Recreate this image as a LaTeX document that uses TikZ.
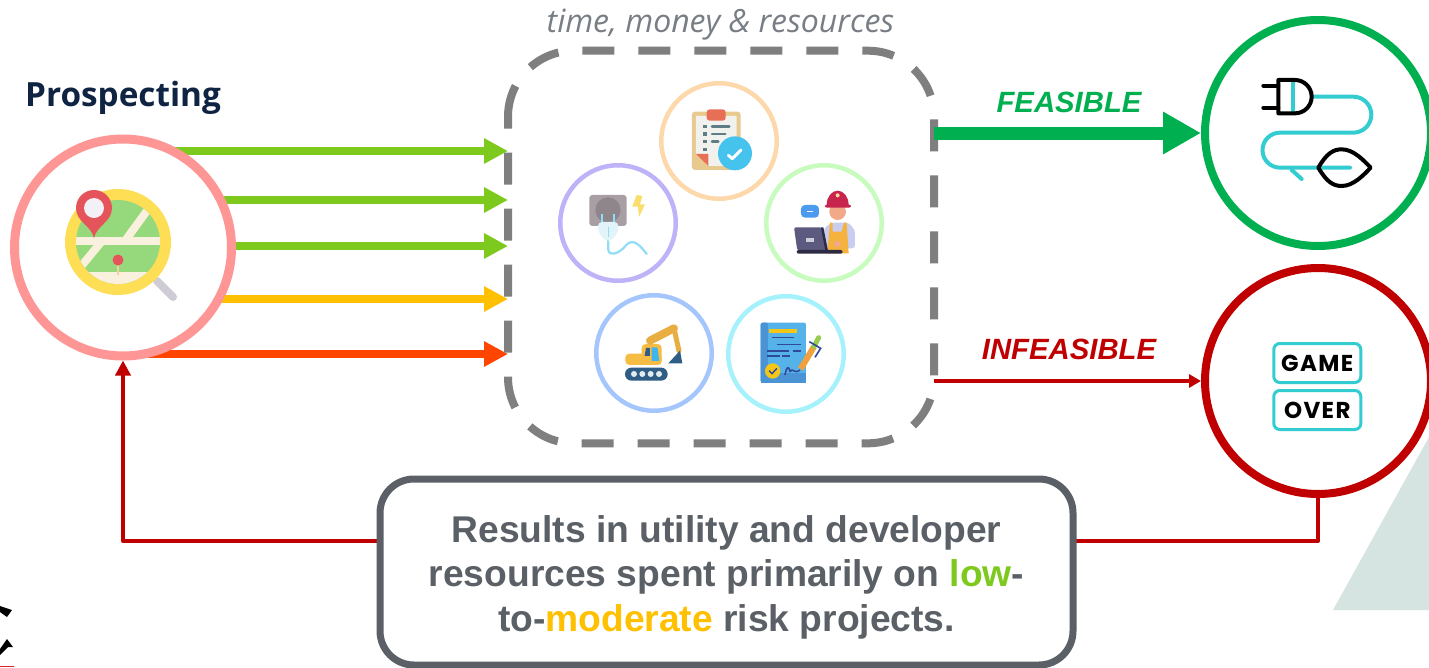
\documentclass[tikz,border=0pt]{standalone}
\usepackage{fontspec}
\setmainfont{Liberation Sans}
\newfontfamily\openfont{Open Sans}
\newfontfamily\gamefont[LetterSpace=6]{Poppins}
\usetikzlibrary{arrows.meta,backgrounds}
\definecolor{cgreen}{HTML}{7EC91E}
\definecolor{camber}{HTML}{FFC000}
\definecolor{corange}{HTML}{FF4500}
\definecolor{cok}{HTML}{00B050}
\definecolor{cbad}{HTML}{C00000}
\definecolor{cteal}{HTML}{33CCD0}
\definecolor{cslate}{HTML}{5A6066}
\definecolor{cframe}{HTML}{7F7F7F}
\tikzset{
  x=1pt,y=-1pt,
  bigring/.style={circle,draw,fill=white,line width=8pt,minimum size=226pt,inner sep=0pt},
  smallring/.style={circle,draw,fill=white,line width=4.5pt,minimum size=115.5pt,inner sep=0pt},
  leadline/.style={line width=8pt,-{Triangle[length=24pt,width=24pt]}},
  thinarrow/.style={cbad,line width=4pt},
  zoomA/.style={shift={(540pt,-70pt)},x=.3333pt,y=-.3333pt},
  gamebox/.style={draw=cteal,line width=3pt,rounded corners=6pt,fill=white,minimum width=87pt,minimum height=39pt,inner sep=0pt,
    font=\gamefont\bfseries\fontsize{23}{23}\selectfont},
  lbl/.style={font=\bfseries\itshape\fontsize{29.3}{30}\selectfont,inner sep=0pt},
  framedash/.style={draw=cframe,line width=8pt,dash pattern=on 32pt off 24pt}
}
\begin{document}
\begin{tikzpicture}
\useasboundingbox (0,0) rectangle (1429,667);

% nodes
\node[bigring,minimum size=217pt,draw={rgb,255:red,255;green,150;blue,150},line width=9pt] (prospect) at (123,247.5) {};
\node[bigring,draw=cok] (green) at (1318,133) {};
\node[bigring,draw=cbad] (red) at (1318,381) {};
\node[minimum width=426pt,minimum height=392.6pt,inner sep=0pt,outer sep=0pt] (box) at (721,247) {};
\draw[framedash] (box.north west) ++(0,66) arc[start angle=180,end angle=270,radius=66]
  -- ++(294,0) arc[start angle=270,end angle=360,radius=66]
  -- ++(0,260.6) arc[start angle=0,end angle=90,radius=66]
  -- ++(-294,0) arc[start angle=90,end angle=180,radius=66] -- cycle;
\node[smallring,draw={rgb,255:red,253;green,216;blue,170}] (s1) at (719,141) {};
\node[smallring,draw={rgb,255:red,192;green,178;blue,248}] (s2) at (618,223) {};
\node[smallring,draw={rgb,255:red,200;green,252;blue,190}] (s3) at (824,223) {};
\node[smallring,draw={rgb,255:red,165;green,198;blue,252}] (s4) at (654,353) {};
\node[smallring,draw={rgb,255:red,165;green,242;blue,252}] (s5) at (786,354) {};

\node[font=\openfont\bfseries\fontsize{33.3}{36}\selectfont,text={rgb,255:red,15;green,35;blue,67},inner sep=0pt,anchor=base west] (title) at (25,106.7) {Prospecting};
\node[font=\openfont\itshape\fontsize{32}{34}\selectfont,text={rgb,255:red,120;green,126;blue,133},inner sep=0pt,anchor=base] (cap) at (720.5,32.7) {time, money \& resources};
\node[lbl,text=cok] (feas) at (1069,102) {FEASIBLE};
\node[lbl,text=cbad] (infeas) at (1069,349) {INFEASIBLE};

\node[draw=cslate,line width=7pt,fill=white,rounded corners=34pt,minimum width=693pt,minimum height=186pt,inner sep=0pt,
  align=center,text=cslate,font=\bfseries\fontsize{37.2}{44.5}\selectfont] (result) at (726.5,572)
  {\rule{0pt}{37pt}Results in utility and developer\\resources spent primarily on \textcolor{cgreen}{low}-\\to-\textcolor{camber}{moderate} risk projects.};

\node[gamebox] (game) at (1317.3,363) {GAME};
\node[gamebox] (over) at (1317.3,410) {OVER};

% connectors and background on the lower layer
\coordinate (t1) at (508,151);
\coordinate (t2) at (508,200);
\coordinate (t3) at (508,246);
\coordinate (t4) at (508,299);
\coordinate (t5) at (508,354);
\coordinate (fb) at (727,541);
\begin{scope}[on background layer]
  \fill[white] (0,0) rectangle (1429,667);
  \fill[fill={rgb,255:red,213;green,227;blue,225}] (1333,610) -- (1429,437) -- (1429,610) -- cycle;
  \draw[leadline,cgreen] (prospect.center |- t1) -- (t1);
  \draw[leadline,cgreen] (prospect.center |- t2) -- (t2);
  \draw[leadline,cgreen] (prospect.center |- t3) -- (t3);
  \draw[leadline,camber] (prospect.center |- t4) -- (t4);
  \draw[leadline,corange] (prospect.center |- t5) -- (t5);
  \draw[thinarrow,line join=round,-{Triangle[length=15pt,width=15pt]}] (red.south) |- (fb) -| (prospect.south);
\end{scope}
\draw[cok,line width=13pt,-{Triangle[length=38pt,width=40pt]}] (box.east |- green.west) -- (green.west);
\draw[thinarrow,line width=4.5pt,-{Triangle[length=12pt,width=13pt]}] (box.east |- red.west) -- (red.west);

% map icon
\begin{scope}
  \draw[line width=8pt,line cap=round,color={rgb,255:red,208;green,204;blue,214}] (157,281) -- (173,297);
  \fill[color={rgb,255:red,253;green,222;blue,84}] (118,242) circle (53);
  \begin{scope}
    \clip (118,242) circle (42);
    \fill[color={rgb,255:red,150;green,217;blue,124}] (70,195) rectangle (166,290);
    \draw[line width=8pt,color={rgb,255:red,250;green,240;blue,222}] (70,241) -- (166,241);
    \draw[line width=8pt,color={rgb,255:red,250;green,240;blue,222}] (149,208) -- (125,241);
    \draw[line width=8pt,color={rgb,255:red,250;green,240;blue,222}] (102,241) -- (74,275);
    \fill[color={rgb,255:red,250;green,240;blue,222}] (70,272) rectangle (166,290);
  \end{scope}
  \draw[line width=2.5pt,color={rgb,255:red,245;green,208;blue,160}] (118,262) -- (118,275);
  \fill[color={rgb,255:red,229;green,84;blue,90}] (118,260) circle (5.5);
  \fill[color={rgb,255:red,229;green,84;blue,90}] (94,238) .. controls (91,225) and (76,222) .. (76,208)
     arc[start angle=180,end angle=360,radius=18]
     .. controls (112,222) and (97,225) .. (94,238) -- cycle;
  \fill[color={rgb,255:red,243;green,241;blue,246}] (94,208) circle (10);
\end{scope}

% clipboard icon
\begin{scope}[zoomA]
  \fill[rounded corners=3pt,color={rgb,255:red,232;green,201;blue,143}] (456,125) rectangle (602,300);
  \fill[color={rgb,255:red,241;green,241;blue,238}] (468,138) -- (590,138) -- (590,288) -- (505,288) -- (468,250) -- cycle;
  \fill[color={rgb,255:red,230;green,111;blue,85}] (468,252) -- (505,252) -- (505,288) -- cycle;
  \fill[rounded corners=3pt,color={rgb,255:red,230;green,111;blue,85}] (500,118) rectangle (557,152);
  \foreach \yy/\ee in {170/568,192/556,215/535} {
    \fill[color={rgb,255:red,95;green,125;blue,135}] (489,\yy-5) rectangle (500,\yy+5);
    \draw[line width=2.5pt,line cap=round,color={rgb,255:red,95;green,125;blue,135}] (516,\yy) -- (\ee,\yy);
  }
  \fill[color={rgb,255:red,95;green,125;blue,135}] (489,233) rectangle (500,243);
  \fill[color={rgb,255:red,69;green,195;blue,236}] (585,250) circle (51);
  \draw[white,line width=3pt,line cap=round,line join=round] (565,256) -- (577,266) -- (603,240);
\end{scope}

% socket icon
\begin{scope}[zoomA]
  \fill[rounded corners=3pt,color={rgb,255:red,168;green,159;blue,165}] (148,375) rectangle (260,468);
  \fill[color={rgb,255:red,143;green,134;blue,140}] (204,420) circle (38);
  \fill[color={rgb,255:red,251;green,221;blue,107}] (290,375) -- (277,410) -- (294,410) -- (297,441) -- (315,403) -- (300,403) -- (307,378) -- cycle;
  \draw[line width=2.2pt,line join=round,line cap=round,color={rgb,255:red,144;green,221;blue,245}] (205,510) -- (205,540) .. controls (208,560) and (235,550) .. (250,535) .. controls (270,510) and (285,505) .. (320,552);
  \draw[line width=2pt,color={rgb,255:red,144;green,221;blue,245}] (187,432) -- (187,458) (222,432) -- (222,458);
  \fill[rounded corners=4pt,color={rgb,255:red,226;green,243;blue,250}] (174,456) -- (235,456) -- (235,485) -- (215,512) -- (195,512) -- (174,485) -- cycle;
  \draw[line width=1.2pt,color={rgb,255:red,144;green,221;blue,245}] (205,470) -- (205,500);
\end{scope}

% worker icon
\begin{scope}[zoomA]
  \fill[rounded corners=3pt,color={rgb,255:red,201;green,205;blue,240}] (852,475) -- (875,458) -- (925,458) -- (945,480) -- (945,535) -- (852,535) -- cycle;
  \fill[color={rgb,255:red,245;green,178;blue,60}] (870,458) -- (878,458) -- (878,485) -- (905,485) -- (912,458) -- (920,458) -- (926,550) -- (862,550) -- cycle;
  \fill[color={rgb,255:red,242;green,169;blue,138}] (893,425) circle (25);
  \fill[color={rgb,255:red,200;green,37;blue,78}] (860,405) arc[start angle=180,end angle=360,x radius=33,y radius=43] -- cycle;
  \fill[rounded corners=2pt,color={rgb,255:red,200;green,37;blue,78}] (855,404) rectangle (933,413);
  \fill[color={rgb,255:red,250;green,220;blue,150}] (893,376) circle (6);
  \fill[rounded corners=4pt,color={rgb,255:red,76;green,155;blue,238}] (783,405) rectangle (837,443);
  \draw[white,line width=.8pt] (800,424) -- (820,424);
  \fill[rounded corners=2pt,color={rgb,255:red,92;green,90;blue,127}] (762,472) -- (846,472) -- (860,542) -- (772,542) -- cycle;
  \fill[color={rgb,255:red,205;green,205;blue,220}] (798,505) rectangle (822,515);
  \fill[rounded corners=2pt,color={rgb,255:red,45;green,43;blue,68}] (770,540) rectangle (908,551);
  \fill[color={rgb,255:red,45;green,43;blue,68}] (843,472) -- (850,472) -- (864,542) -- (856,542) -- cycle;
  \fill[color={rgb,255:red,242;green,169;blue,138}] (892,522) circle (10);
\end{scope}

% excavator icon
\begin{scope}[zoomA]
  \fill[rounded corners=4pt,color={rgb,255:red,247;green,188;blue,68}] (256,851) rectangle (365,885);
  \fill[rounded corners=4pt,color={rgb,255:red,247;green,188;blue,68}] (305,822) rectangle (365,885);
  \fill[color={rgb,255:red,62;green,181;blue,236}] (335,832) -- (352,832) -- (358,873) -- (335,873) -- cycle;
  \fill[color={rgb,255:red,47;green,93;blue,133}] (318,834) -- (330,834) -- (330,858) -- (314,858) -- cycle;
  \draw[line width=8pt,line join=round,line cap=round,color={rgb,255:red,232;green,174;blue,66}] (330,812) -- (402,775);
  \draw[line width=5pt,line join=round,line cap=round,color={rgb,255:red,232;green,174;blue,66}] (402,775) -- (417,843);
  \fill[color={rgb,255:red,47;green,93;blue,133}] (385,880) -- (420,842) -- (427,880) -- cycle;
  \fill[rounded corners=6.4pt,color={rgb,255:red,47;green,93;blue,133}] (255,893) rectangle (383,932);
  \foreach \xx in {282,307,332,357} \fill[color={rgb,255:red,225;green,235;blue,240}] (\xx,912) circle (9);
\end{scope}

% document icon
\begin{scope}[zoomA]
  \fill[rounded corners=2pt,color={rgb,255:red,86;green,179;blue,234}] (662,758) rectangle (798,938);
  \fill[rounded corners=2pt,color={rgb,255:red,74;green,147;blue,213}] (662,758) rectangle (684,938);
  \fill[color={rgb,255:red,74;green,147;blue,213}] (662,910) rectangle (798,938);
  \fill[color={rgb,255:red,245;green,197;blue,24}] (688,778) rectangle (770,790);
  \draw[line width=1.6pt,color={rgb,255:red,47;green,74;blue,154}]
    (697,802) -- (762,802) (710,823) -- (782,823) (682,843) -- (748,843) (758,843) -- (782,843) (682,858) -- (720,858) (727,858) -- (750,858);
  \fill[color={rgb,255:red,245;green,197;blue,24}] (698,903) circle (23);
  \draw[line width=1.4pt,line cap=round,color={rgb,255:red,47;green,74;blue,154}] (688,903) -- (696,911) -- (710,896);
  \draw[line width=1.6pt,line join=round,color={rgb,255:red,47;green,74;blue,154}] (735,915) .. controls (740,890) and (745,885) .. (750,905) .. controls (758,890) and (762,915) .. (780,900);
  \draw[line width=6pt,color={rgb,255:red,240;green,160;blue,60}] (782,897) -- (822,830);
  \draw[line width=5pt,line cap=round,color={rgb,255:red,150;green,205;blue,80}] (822,830) -- (836,803);
  \draw[line width=1.6pt,color={rgb,255:red,47;green,74;blue,154}] (808,815) -- (842,835) -- (825,862);
\end{scope}

% plug icon
\begin{scope}[shift={(1190pt,-10pt)},x=.3333pt,y=-.3333pt]
  \draw[cteal,line width=4pt,line cap=round] (370,260) -- (490,260) arc[start angle=-90,end angle=90,radius=54] -- (270,368) arc[start angle=-90,end angle=-270,radius=52.5] -- (480,473);
  \draw[cteal,line width=4pt,line cap=round] (305,480) -- (335,507);
  \draw[cteal,line width=4pt] (308,215) -- (308,305);
  \draw[black,line width=4pt,line cap=round,line join=round] (265,210) -- (315,210) arc[start angle=-90,end angle=90,radius=50] -- (265,310) -- cycle;
  \draw[black,line width=4pt,line cap=round] (220,227) -- (265,227) (220,293) -- (265,293);
  \draw[black,line width=4pt,line join=round] (385,473) .. controls (410,430) and (430,418) .. (455,418) .. controls (490,418) and (520,450) .. (542,473) .. controls (520,496) and (490,528) .. (455,528) .. controls (430,528) and (410,516) .. (385,473) -- cycle;
\end{scope}

% cut-off mark at the lower left
\fill[black] (0,606) -- (12,610) -- (7,617) -- (0,612) -- cycle;
\fill[black] (7,639) -- (13,647) -- (8,647) -- (0,655) -- (0,649) -- cycle;
\fill[color={rgb,255:red,220;green,30;blue,40}] (0,665.5) rectangle (14,667);
\end{tikzpicture}
\end{document}
